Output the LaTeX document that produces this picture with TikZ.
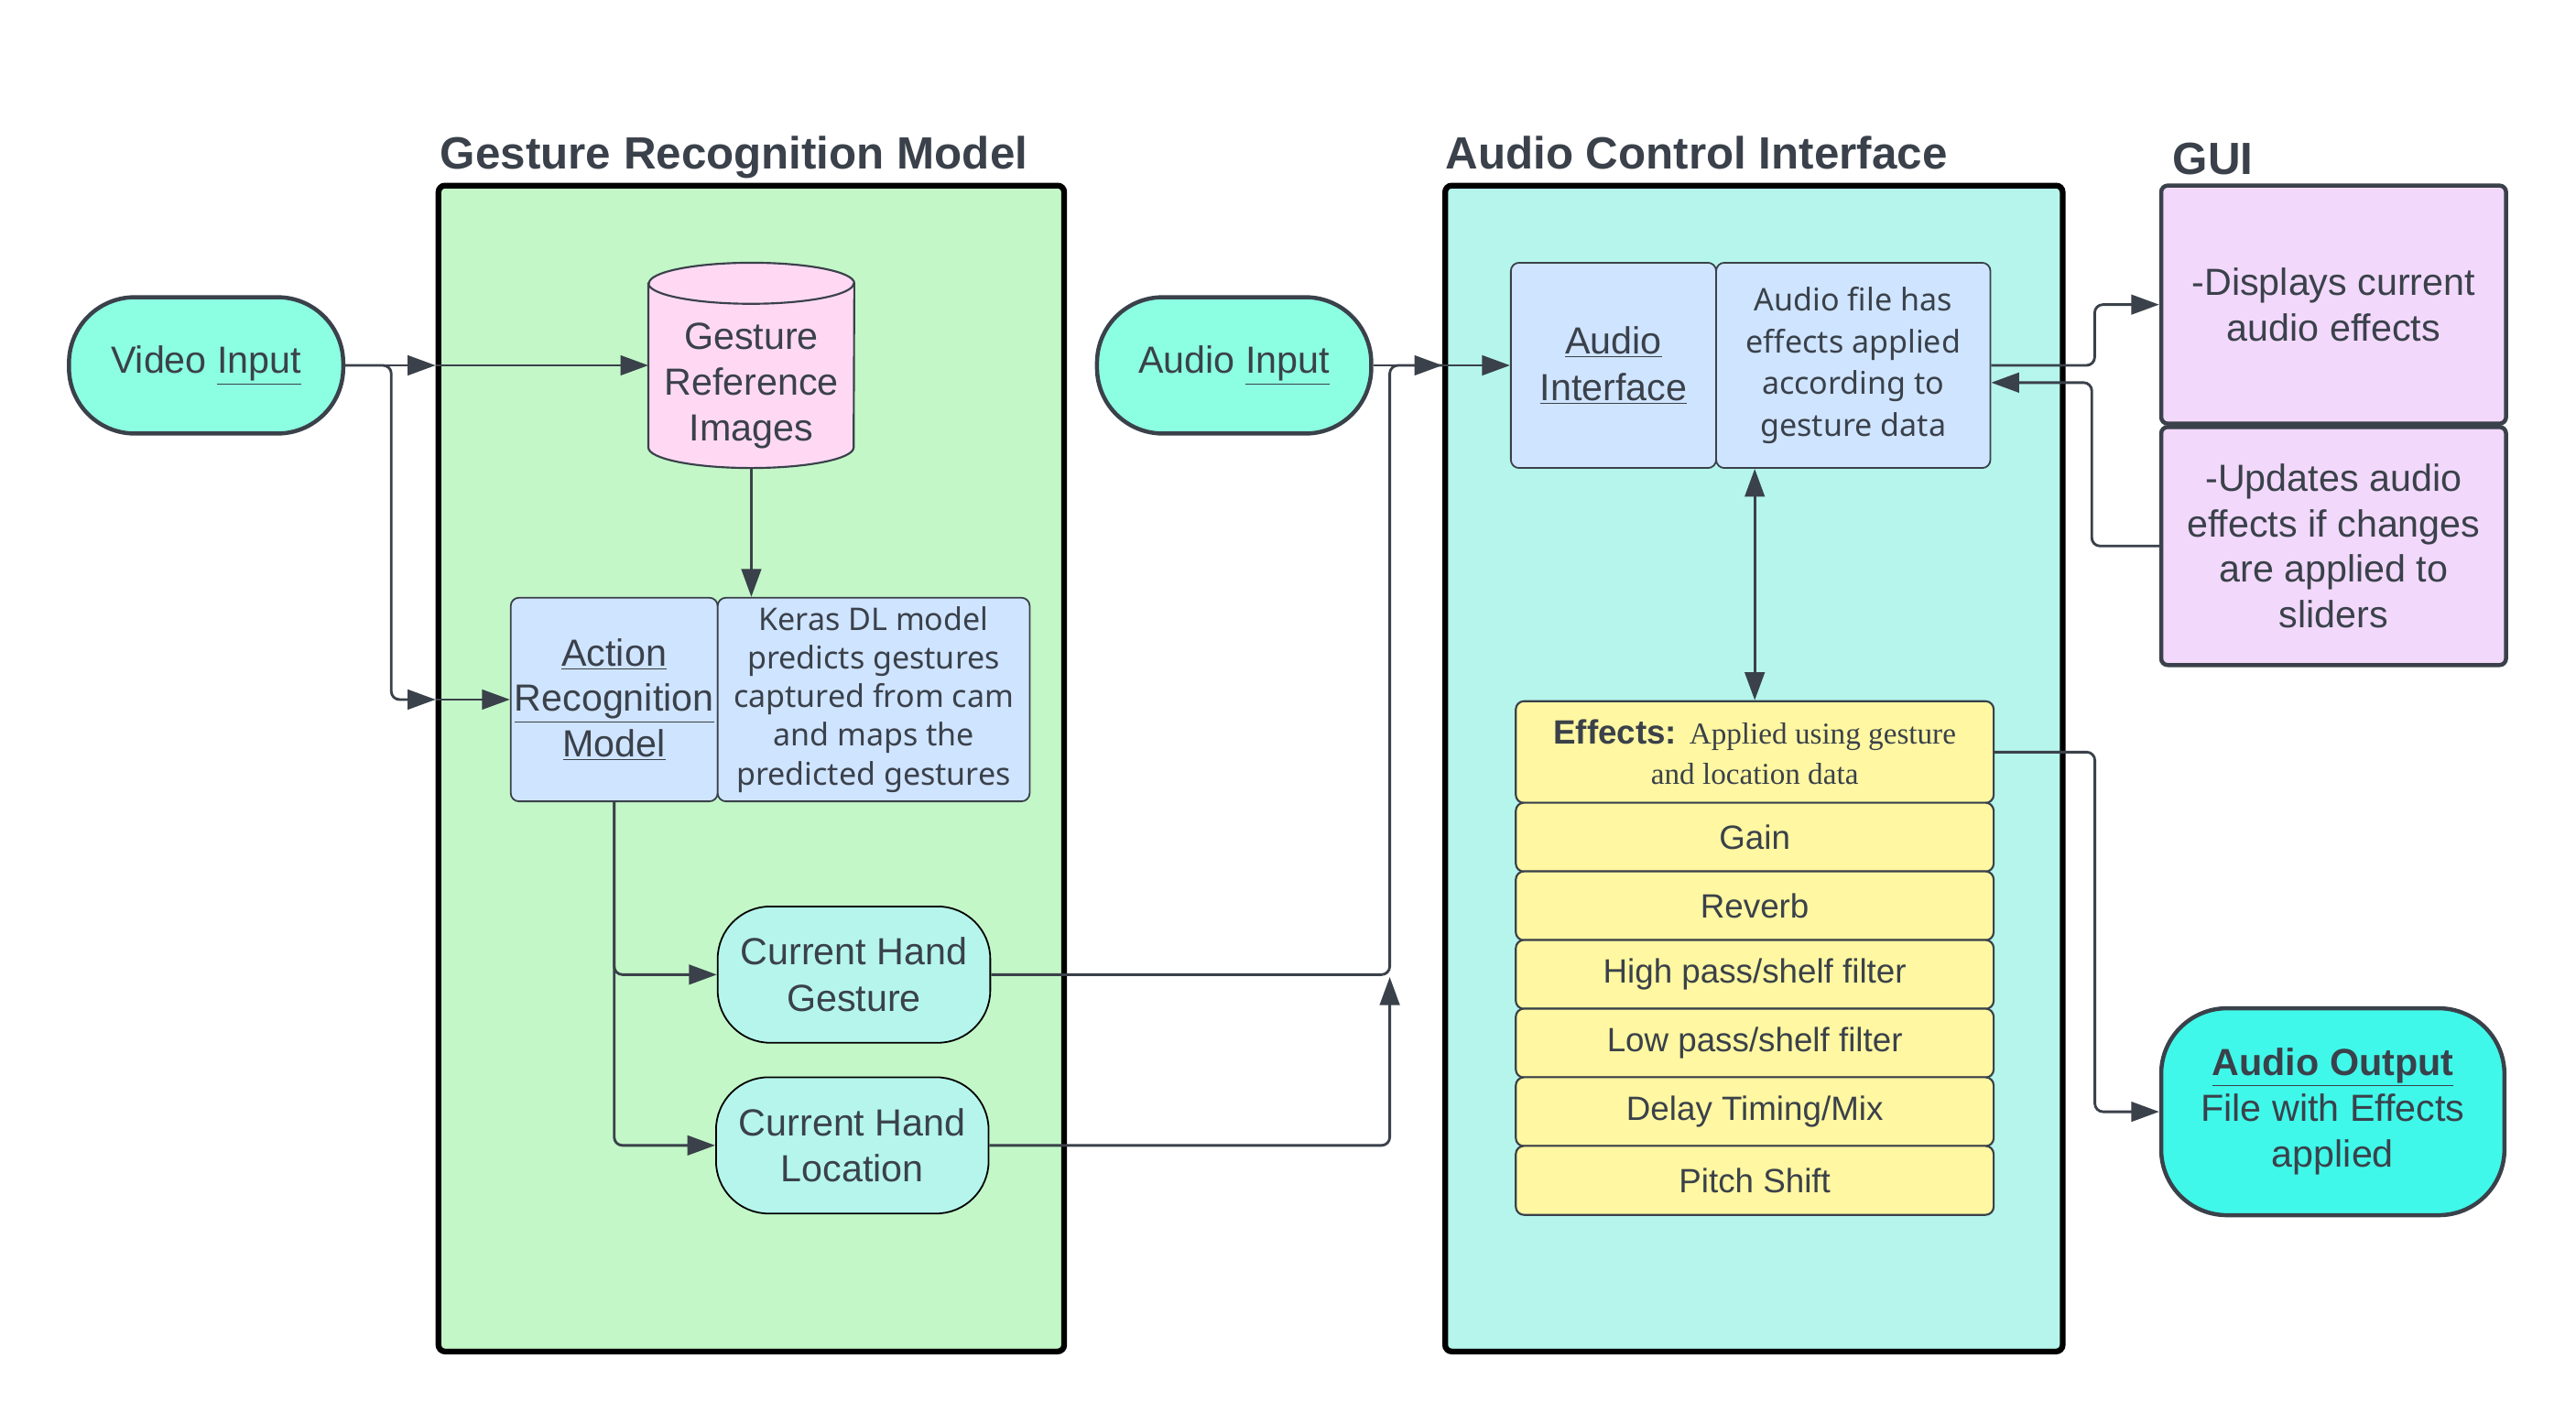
\documentclass[tikz,border=0pt]{standalone}
\usepackage{fontspec}
\setmainfont{Liberation Sans}
\newfontfamily\notofont{Noto Sans}
\newfontfamily\seriffont{Liberation Serif}
\usetikzlibrary{shapes.geometric,arrows.meta,positioning,calc}

\definecolor{textc}{HTML}{3A414A}
\definecolor{grmfill}{HTML}{C3F7C8}
\definecolor{acifill}{HTML}{B5F5EC}
\definecolor{inputfill}{HTML}{8CFFE2}
\definecolor{cylfill}{HTML}{FFD9F4}
\definecolor{bluefill}{HTML}{CFE4FF}
\definecolor{guifill}{HTML}{F2D8FB}
\definecolor{effill}{HTML}{FFF7A1}
\definecolor{outfill}{HTML}{40F8EA}

\newcommand{\fsz}[2]{\fontsize{#1}{#2}\selectfont}
\newcommand{\serifsmall}{\seriffont\fsz{18.5}{26}}

\tikzset{
  container/.style={draw=black, line width=3.5pt, rounded corners=4pt, minimum width=378pt, minimum height=710pt},
  title/.style={font=\bfseries\fsz{27.5}{33}, anchor=base west},
  terminal/.style={draw=textc, line width=2.5pt, fill=inputfill, rounded corners=40pt, minimum width=167pt, minimum height=83pt, font=\fsz{23}{28}},
  handbox/.style={draw=black, line width=1pt, fill=acifill, rounded corners=32pt, minimum width=166pt, minimum height=83pt, font=\fsz{23}{28}},
  bluebox/.style={draw=textc, line width=1pt, fill=bluefill, rounded corners=5pt, minimum height=125pt},
  cylline/.style={draw=textc, line width=1.2pt},
  guibox/.style={draw=textc, line width=2.5pt, fill=guifill, rounded corners=4pt, minimum width=210pt, minimum height=145pt, font=\fsz{23}{27.8}},
  effrow/.style={draw=textc, line width=1.2pt, fill=effill, rounded corners=5pt, minimum width=291pt, minimum height=42pt, font=\fsz{20.5}{25}},
  conn/.style={draw=textc, line width=1.6pt, rounded corners=5pt},
  arr/.style={conn, -{Triangle[length=17pt,width=12pt]}},
  arrboth/.style={conn, {Triangle[length=17pt,width=12pt]}-{Triangle[length=17pt,width=12pt]}},
}

\begin{document}
\begin{tikzpicture}[x=1pt,y=-1pt, every node/.style={text=textc, align=center, inner sep=0pt}]
    \useasboundingbox (0,0) rectangle (1568.6,866);

    % Group containers
    \node[container, fill=grmfill, minimum width=381pt] (grm) at (457.5,468) {};
    \node[container, fill=acifill, minimum width=376pt] (aci) at (1068,468) {};
    \node[title] at (268,103) {Gesture Recognition Model};
    \node[title] at (880,103) {Audio Control Interface};
    \node[title] at (1323,106) {GUI};

    % Inputs
    \node[terminal] (vid) at (125.5,222.5) {Video \underline{Input}};
    \node[terminal] (ain) at (751.5,222.5) {Audio \underline{Input}};

    % Gesture recognition model
    \node[minimum width=125pt, minimum height=125pt] (cyl) at (457.5,222.5) {};
    \path[cylline, fill=cylfill] ([yshift=50pt]cyl.west) -- ([yshift=-50pt]cyl.west)
        arc[start angle=180, end angle=360, x radius=62.5pt, y radius=12.5pt]
        -- ([yshift=50pt]cyl.east)
        arc[start angle=0, end angle=180, x radius=62.5pt, y radius=12.5pt] -- cycle;
    \draw[cylline] ([yshift=50pt]cyl.west) arc[start angle=180, end angle=360, x radius=62.5pt, y radius=12.5pt];
    \node[font=\fsz{23}{28}] at (457.5,235) {Gesture\\Reference\\Images};
    \node[bluebox, minimum width=126pt, minimum height=124pt, font=\fsz{23}{27.5}] (arm) at (374,426)
        {\underline{Action}\\\underline{Recognition}\\\underline{Model}};
    \node[bluebox, minimum width=190pt, minimum height=124pt, font=\notofont\fsz{19}{23.5}] (keras) at (532,426)
        {Keras DL model\\predicts gestures\\captured from cam\\and maps the\\predicted gestures};
    \node[handbox] (hg) at (520,593.5) {Current Hand\\Gesture};
    \node[handbox] (hl) at (519,697.5) {Current Hand\\Location};

    % Audio control interface
    \node[bluebox, minimum width=125pt, font=\fsz{23}{28}] (ai) at (982.5,222.5)
        {\underline{Audio}\\\underline{Interface}};
    \node[bluebox, minimum width=167pt, font=\notofont\fsz{19}{25.3}] (aft) at (1128.5,222.5)
        {Audio file has\\effects applied\\according to\\gesture data};
    \node[effrow, minimum height=62pt] (effh) at (1068.5,458)
        {\textbf{Effects:} {\serifsmall Applied using gesture}\\{\serifsmall and location data}};
    \foreach \txt [count=\i] in {Gain, Reverb, {High pass/shelf filter}, {Low pass/shelf filter}, {Delay Timing/Mix}, {Pitch Shift}} {
        \pgfmathsetmacro\yy{468+41.8*\i}
        \node[effrow] (eff\i) at (1068.5,\yy) {\txt};
    }

    % GUI and output
    \node[guibox] (gui1) at (1421,185.5) {-Displays current\\audio effects};
    \node[guibox] (gui2) at (1421,332.5) {-Updates audio\\effects if changes\\are applied to\\sliders};
    \node[terminal, fill=outfill, minimum width=209pt, minimum height=126pt] (aout) at (1420.5,677)
        {\textbf{\underline{Audio Output}}\\File with Effects\\applied};

    % Video input links
    \draw[arr] (vid.east) -- (vid.east -| grm.west);
    \draw[arr] (vid.east -| grm.west) -- (cyl.west);
    \draw[arr] (vid.east) -- ++(28,0) |- (arm.west -| grm.west);
    \draw[arr] (arm.west -| grm.west) -- (arm.west);
    \draw[arr] (cyl.south) -- (cyl.south |- keras.north);
    \draw[arr] (arm.south) |- (hg.west);
    \draw[arr] (arm.south) |- (hl.west);

    % Hand data and audio input into the interface
    \coordinate (jn) at ($(ain.east)+(10,0)$);
    \draw[conn] (hg.east) -| (jn) -- (jn -| aci.west);
    \draw[arr] (hl.east) -| ([yshift=-1.5pt]hg.east -| jn);
    \draw[arr] (ain.east) -- (ain.east -| aci.west);
    \draw[arr] (ain.east -| aci.west) -- (ai.west);

    % GUI, effects and output
    \draw[arr] (aft.east) -- ++(63,0) |- (gui1.west);
    \draw[arr] (gui2.west) -- ++(-41,0) |- ([yshift=-10.5pt]aft.east);
    \draw[arrboth] (effh.north) -- (effh.north |- aft.south);
    \draw[arr] (effh.east) -- ++(61,0) |- (aout.west);
\end{tikzpicture}
\end{document}
